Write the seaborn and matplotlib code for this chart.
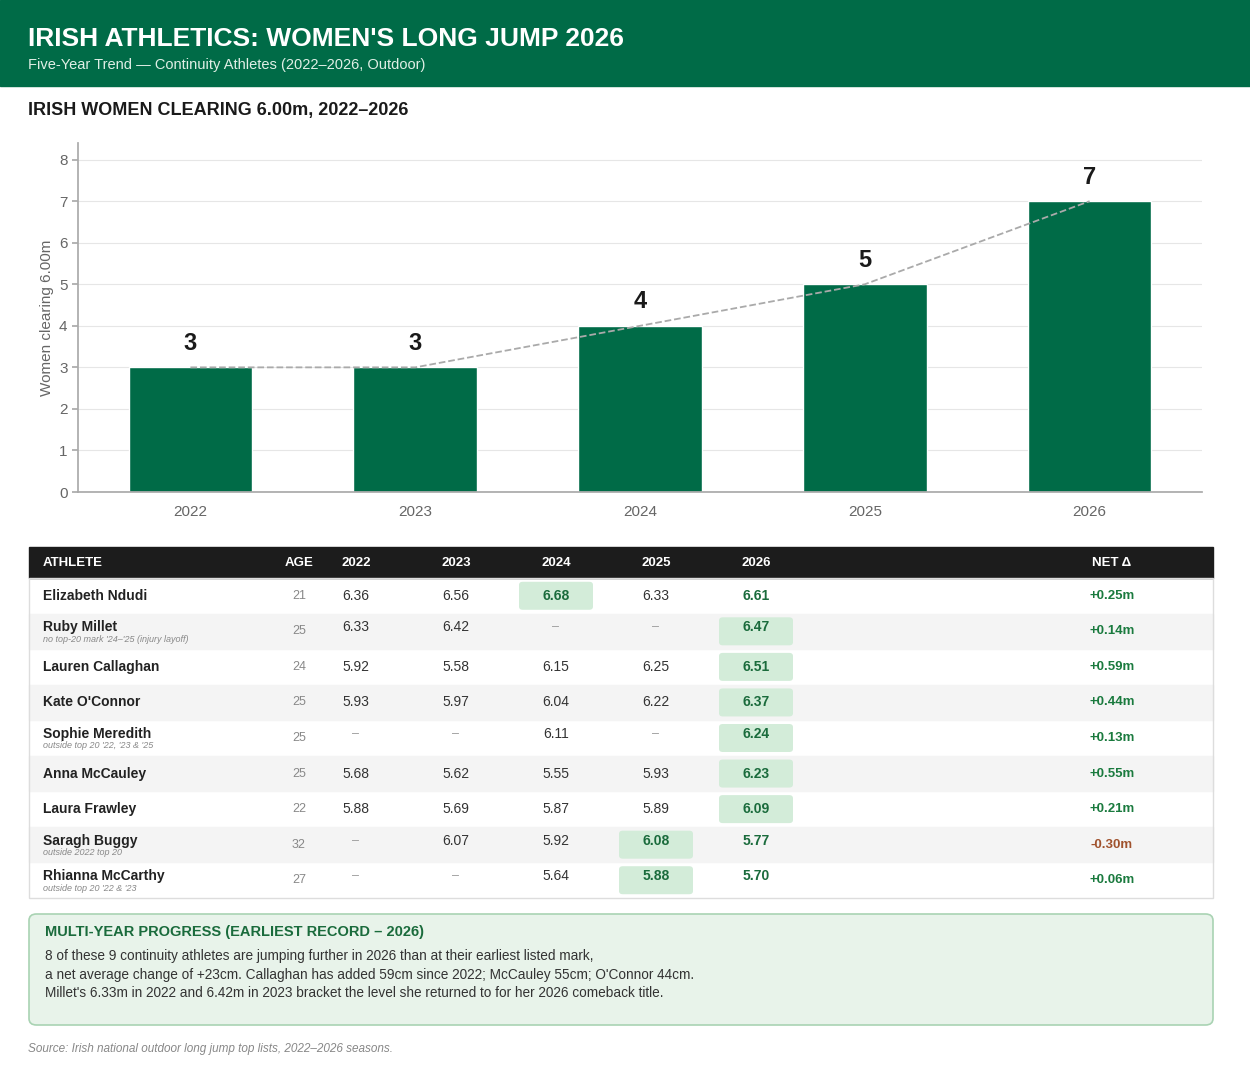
import numpy as np
import pandas as pd
import matplotlib
matplotlib.use("Agg")
import matplotlib.pyplot as plt
import seaborn as sns
from matplotlib.patches import Rectangle, FancyBboxPatch

sns.set_theme(style="white")
plt.rcParams["font.family"] = ["Liberation Sans", "DejaVu Sans"]

GREEN = "#006b47"
DARK_GREEN = "#1a6b3c"

# ---------------------------------------------------------------------------
# Data
# ---------------------------------------------------------------------------
years = ["2022", "2023", "2024", "2025", "2026"]
clearing_count = [3, 3, 4, 5, 7]

athletes = ["Elizabeth Ndudi", "Ruby Millet", "Lauren Callaghan", "Kate O'Connor",
            "Sophie Meredith", "Anna McCauley", "Laura Frawley", "Saragh Buggy",
            "Rhianna McCarthy"]
ages = [21, 25, 24, 25, 25, 25, 22, 32, 27]
notes = ["", "no top-20 mark '24\u2013'25 (injury layoff)", "", "",
         "outside top 20 '22, '23 & '25", "", "", "outside 2022 top 20",
         "outside top 20 '22 & '23"]
marks_2022 = [6.36, 6.33, 5.92, 5.93, None, 5.68, 5.88, None, None]
marks_2023 = [6.56, 6.42, 5.58, 5.97, None, 5.62, 5.69, 6.07, None]
marks_2024 = [6.68, None, 6.15, 6.04, 6.11, 5.55, 5.87, 5.92, 5.64]
marks_2025 = [6.33, None, 6.25, 6.22, None, 5.93, 5.89, 6.08, 5.88]
marks_2026 = [6.61, 6.47, 6.51, 6.37, 6.24, 6.23, 6.09, 5.77, 5.70]

W, H = 1250, 1078
fig = plt.figure(figsize=(W / 100, H / 100), dpi=100)
fig.patch.set_facecolor("white")


def fx(x):
    return x / W


def fy(y):
    return 1 - y / H


# ---------------------------------------------------------------------------
# Header
# ---------------------------------------------------------------------------
fig.add_artist(Rectangle((0, fy(86)), 1, 86 / H, transform=fig.transFigure,
                         color=GREEN, zorder=0))
fig.text(fx(28), fy(39), "IRISH ATHLETICS: WOMEN'S LONG JUMP 2026", color="white",
         fontsize=19, fontweight="bold", va="center")
fig.text(fx(28), fy(65), "Five-Year Trend \u2014 Continuity Athletes (2022\u20132026, Outdoor)",
         color="#e0efe6", fontsize=10.5, va="center")
fig.text(fx(28), fy(110), "IRISH WOMEN CLEARING 6.00m, 2022\u20132026", color="#1a1a1a",
         fontsize=13, fontweight="bold", va="center")

# ---------------------------------------------------------------------------
# Bar chart
# ---------------------------------------------------------------------------
ax = fig.add_axes([fx(78), fy(492), (1202 - 78) / W, (492 - 143) / H])
df = pd.DataFrame({"year": years, "count": clearing_count})
sns.barplot(data=df, x="year", y="count", color=GREEN, width=0.55, saturation=1, ax=ax)
ax.plot(range(len(years)), clearing_count, linestyle="--", color="#aaaaaa", linewidth=1.3,
        zorder=3)
for i, v in enumerate(clearing_count):
    ax.text(i, v + 0.3, str(v), ha="center", va="bottom", fontsize=17, fontweight="bold",
            color="#1a1a1a")
ax.set_xlim(-0.5, 4.5)
ax.set_ylim(0, 8.4)
ax.set_yticks(range(0, 9))
ax.yaxis.grid(True, color="#e6e6e6", linewidth=0.8)
ax.set_axisbelow(True)
ax.set_xlabel("")
ax.set_ylabel("Women clearing 6.00m", color="#666666", fontsize=11)
ax.tick_params(axis="both", colors="#666666", labelsize=11)
ax.tick_params(axis="y", left=True, length=4, color="#aaaaaa")
for s in ["top", "right"]:
    ax.spines[s].set_visible(False)
ax.spines["left"].set_color("#aaaaaa")
ax.spines["bottom"].set_color("#aaaaaa")

# ---------------------------------------------------------------------------
# Table
# ---------------------------------------------------------------------------
tx0, tx1 = 29, 1213
head_top, head_bot = 547, 578
row_h = (898 - 578) / len(athletes)
fig.add_artist(Rectangle((fx(tx0), fy(head_bot)), (tx1 - tx0) / W, (head_bot - head_top) / H,
                         transform=fig.transFigure, color="#1c1c1c"))
head_y = fy((head_top + head_bot) / 2)
col_x = {"AGE": 299, "2022": 356, "2023": 456, "2024": 556, "2025": 656, "2026": 756,
         "NET \u0394": 1112}
fig.text(fx(43), head_y, "ATHLETE", color="white", fontsize=9.5, fontweight="bold", va="center")
for k, x in col_x.items():
    fig.text(fx(x), head_y, k, color="white", fontsize=9.5, fontweight="bold",
             va="center", ha="center")

all_marks = [marks_2022, marks_2023, marks_2024, marks_2025, marks_2026]
for r, name in enumerate(athletes):
    top = head_bot + r * row_h
    if r % 2 == 1:
        fig.add_artist(Rectangle((fx(tx0), fy(top + row_h)), (tx1 - tx0) / W, row_h / H,
                                 transform=fig.transFigure, color="#f4f4f4", zorder=0))
    mid = top + row_h / 2
    shift = -4 if notes[r] else 0
    if notes[r]:
        fig.text(fx(43), fy(mid - 4), name, fontsize=10, fontweight="bold", color="#222222",
                 va="center")
        fig.text(fx(43), fy(mid + 8), notes[r], fontsize=6.5, style="italic", color="#888888",
                 va="center")
    else:
        fig.text(fx(43), fy(mid), name, fontsize=10, fontweight="bold", color="#222222",
                 va="center")
    fig.text(fx(299), fy(mid), str(ages[r]), fontsize=9, color="#888888", va="center",
             ha="center")
    row_vals = [m[r] for m in all_marks]
    valid = [v for v in row_vals if v is not None]
    best = max(valid)
    for c, v in enumerate(row_vals):
        x = col_x[years[c]]
        if v is None:
            fig.text(fx(x), fy(mid + shift), "\u2013", fontsize=9, color="#999999",
                     va="center", ha="center")
            continue
        is_best = v == best
        if is_best:
            fig.add_artist(FancyBboxPatch((fx(x - 37), fy(mid + 14)), 74 / W, 28 / H,
                                          boxstyle="round,pad=0,rounding_size=0.003",
                                          transform=fig.transFigure, facecolor="#d3ecd9",
                                          edgecolor="none", zorder=1))
        green = is_best or c == 4
        fig.text(fx(x), fy(mid + shift), f"{v:.2f}", fontsize=10,
                 color=DARK_GREEN if green else "#333333",
                 fontweight="bold" if green else "normal", va="center", ha="center", zorder=2)
    net = marks_2026[r] - valid[0]
    fig.text(fx(1112), fy(mid), f"{net:+.2f}m", fontsize=9.5, fontweight="bold",
             color="#1a7a3e" if net >= 0 else "#a0522d", va="center", ha="center")

fig.add_artist(Rectangle((fx(tx0), fy(898)), (tx1 - tx0) / W, (898 - head_bot) / H,
                         transform=fig.transFigure, fill=False, edgecolor="#dddddd",
                         linewidth=1))

# ---------------------------------------------------------------------------
# Note box
# ---------------------------------------------------------------------------
fig.add_artist(FancyBboxPatch((fx(29), fy(1025)), (1213 - 29) / W, (1025 - 914) / H,
                              boxstyle="round,pad=0,rounding_size=0.006",
                              transform=fig.transFigure, facecolor="#e8f3ea",
                              edgecolor="#a9d3b3", linewidth=1.2))
fig.text(fx(45), fy(932), "MULTI-YEAR PROGRESS (EARLIEST RECORD \u2013 2026)", color=DARK_GREEN,
         fontsize=10.5, fontweight="bold", va="center")
lines = [
    "8 of these 9 continuity athletes are jumping further in 2026 than at their earliest listed mark,",
    "a net average change of +23cm. Callaghan has added 59cm since 2022; McCauley 55cm; O'Connor 44cm.",
    "Millet's 6.33m in 2022 and 6.42m in 2023 bracket the level she returned to for her 2026 comeback title.",
]
for i, line in enumerate(lines):
    fig.text(fx(45), fy(956 + i * 18.5), line, color="#333333", fontsize=9.8, va="center")

fig.text(fx(28), fy(1049), "Source: Irish national outdoor long jump top lists, 2022\u20132026 seasons.",
         color="#888888", fontsize=8.5, style="italic", va="center")

fig.savefig("out.png", dpi=100, facecolor="white")
